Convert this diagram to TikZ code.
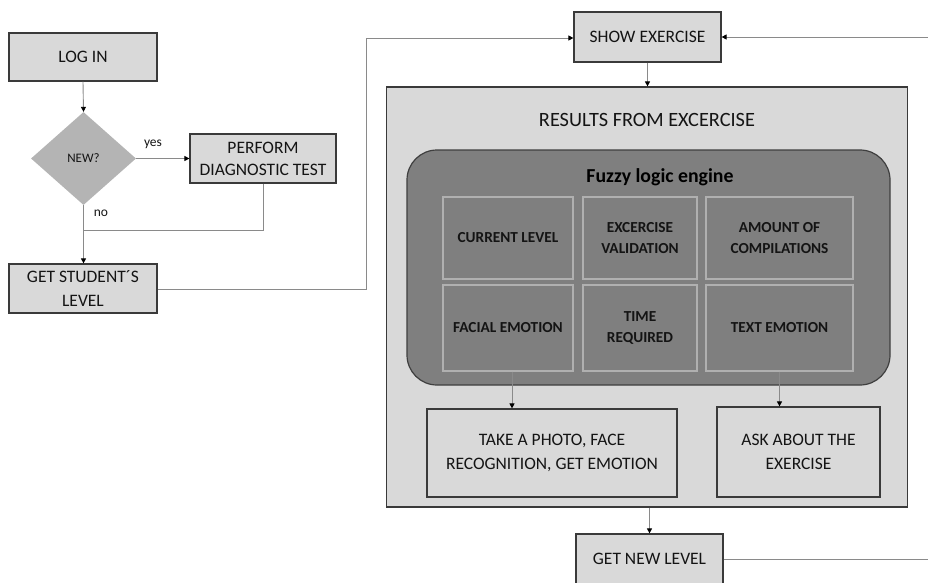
\documentclass[tikz,border=0pt]{standalone}
\usepackage{fontspec}
\setmainfont{Carlito}
\usetikzlibrary{shapes.geometric,arrows.meta}
\definecolor{boxfill}{HTML}{D9D9D9}
\definecolor{boxline}{HTML}{3A3A3A}
\definecolor{engfill}{HTML}{7F7F7F}
\definecolor{engline}{HTML}{3F3F3F}
\definecolor{cellline}{HTML}{B0B0B0}
\definecolor{diafill}{HTML}{B4B4B4}
\definecolor{wire}{HTML}{8A8A8A}
\definecolor{txt}{HTML}{141414}

\begin{document}
\begin{tikzpicture}[x=1pt,y=-1pt,
  box/.style={draw=boxline, line width=1.2pt, fill=boxfill, inner sep=2pt,
    align=center, text=txt, font=\fontsize{17.5}{23}\selectfont},
  cell/.style={draw=cellline, line width=1.1pt, inner sep=2pt, align=center,
    text=txt, font=\bfseries\fontsize{15.3}{21.5}\selectfont},
  wirearrow/.style={draw=wire, line width=0.9pt,
    -{Triangle[length=5pt,width=5pt,fill=black,color=black]}},
  wireline/.style={draw=wire, line width=0.9pt},
  lbl/.style={text=txt, font=\fontsize{13.5}{15}\selectfont, inner sep=0pt}]

\useasboundingbox (0,0) rectangle (928,583);

% ---- left part: login and diagnostic
\node[box, minimum width=148pt, minimum height=48pt] (login) at (83,57) {LOG IN};
\node[shape=diamond, fill=diafill, minimum width=105pt, minimum height=93pt,
      inner sep=0pt, text=txt, font=\fontsize{13}{14}\selectfont] (new) at (83.5,158.5) {NEW?};
\node[box, minimum width=146pt, minimum height=49pt, font=\fontsize{17.5}{22}\selectfont] (diag) at (263,158.5) {PERFORM\\DIAGNOSTIC TEST};
\node[box, minimum width=148pt, minimum height=49pt, font=\fontsize{17.5}{24}\selectfont] (level) at (83,288.5) {GET STUDENT´S\\LEVEL};
\coordinate (join) at (83.5,230);

\draw[wirearrow] (login.south) -- (new.north);
\draw[wirearrow] (new.east) -- (diag.west);
\draw[wirearrow] (new.south) -- (level.north -| new.south);
\draw[wireline] (diag.south) -- (diag.south |- join) -- (join);
\node[lbl] (yes) at (153,144) {yes};
\node[lbl] (no) at (101,213) {no};

% ---- exercise loop
\node[box, minimum width=147pt, minimum height=50pt] (show) at (647.5,37) {SHOW EXERCISE};
\node[box, minimum width=521pt, minimum height=420pt] (results) at (647,297) {};
\node[text=txt, font=\fontsize{20.3}{23}\selectfont, inner sep=0pt] (restitle) at (647,120) {RESULTS FROM EXCERCISE};

\node[draw=engline, line width=1.2pt, fill=engfill, rounded corners=30pt,
      minimum width=483pt, minimum height=235pt] (engine) at (648.5,267.5) {};
\node[text=black, font=\bfseries\fontsize{19.8}{22}\selectfont, inner sep=0pt] (engtitle) at (660,177) {Fuzzy logic engine};

\node[cell, minimum width=130pt, minimum height=82pt] (cur) at (508,238) {CURRENT LEVEL};
\node[cell, minimum width=114pt, minimum height=82pt] (val) at (640,238) {EXCERCISE\\VALIDATION};
\node[cell, minimum width=147pt, minimum height=82pt] (comp) at (779.5,238) {AMOUNT OF\\COMPILATIONS};
\node[cell, minimum width=130pt, minimum height=86pt] (face) at (508,328) {FACIAL EMOTION};
\node[cell, minimum width=114pt, minimum height=86pt] (time) at (640,328) {TIME\\REQUIRED};
\node[cell, minimum width=147pt, minimum height=86pt] (temo) at (779.5,328) {TEXT EMOTION};

\node[box, minimum width=250pt, minimum height=88pt, font=\fontsize{17.5}{24}\selectfont] (photo) at (552,453) {TAKE A PHOTO, FACE\\RECOGNITION, GET EMOTION};
\node[box, minimum width=163pt, minimum height=90pt, font=\fontsize{17.5}{24}\selectfont] (ask) at (798.5,452) {ASK ABOUT THE\\EXERCISE};

\node[box, minimum width=147pt, minimum height=50pt] (newlevel) at (649.5,559) {GET NEW LEVEL};

\coordinate (upL) at (366,289);
\coordinate (upR) at (366,38);
\coordinate (backB) at (945,559);
\coordinate (backT) at (945,37);
\coordinate (facedrop) at ([xshift=4pt]face.south);

\draw[wirearrow] (show.south) -- (results.north -| show.south);
\draw[wirearrow] (facedrop) -- (photo.north -| facedrop);
\draw[wirearrow] (temo.south) -- (ask.north -| temo.south);
\draw[wirearrow] (results.south -| newlevel.north) -- (newlevel.north);
\draw[wirearrow] (level.east |- upL) -- (upL) -- (upR) -- (show.west |- upR);
\draw[wirearrow] (newlevel.east) -- (backB) -- (backT) -- (show.east);
\end{tikzpicture}
\end{document}
